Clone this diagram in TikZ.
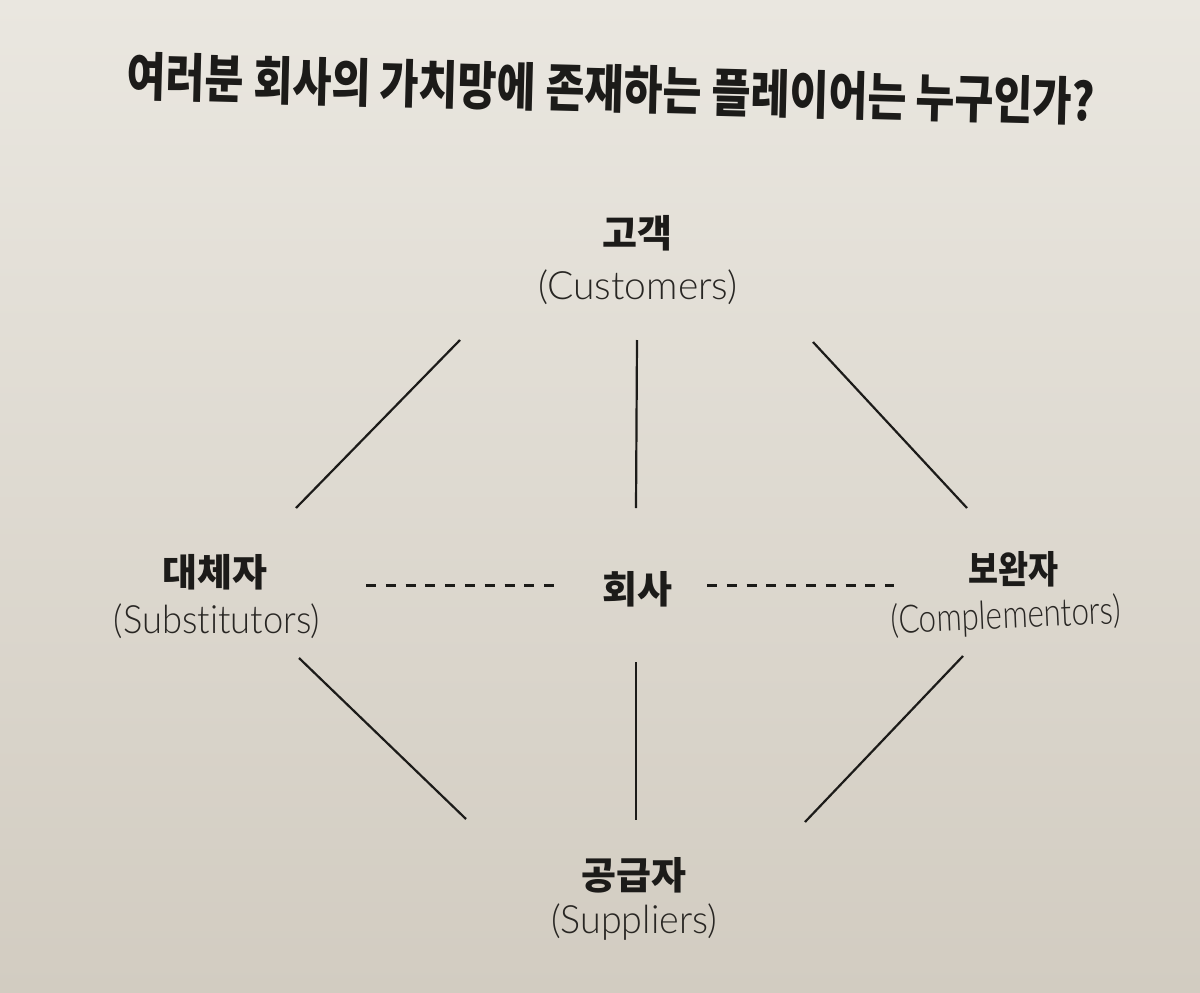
\documentclass[tikz,border=0pt]{standalone}
\usepackage{fontspec}
\usepackage{graphicx}
\setmainfont{Noto Sans CJK KR}
\IfFontExistsTF{Lato Light}{%
  \newfontfamily\latinfont[Ligatures=NoCommon]{Lato Light}%
  \newcommand\enfontsel{\latinfont\fontsize{39}{42}\selectfont}%
}{%
  \newfontfamily\latinfont{Liberation Sans}%
  \newcommand\enfontsel{\latinfont\fontsize{36}{40}\selectfont}%
}
\definecolor{ink}{RGB}{28,27,25}
\definecolor{inklight}{RGB}{40,38,35}
\definecolor{paperTop}{RGB}{234,231,224}
\definecolor{paperBot}{RGB}{210,204,193}
\begin{document}
\begin{tikzpicture}[x=1pt,y=-1pt,
  kr/.style={inner sep=0pt, text=ink, font=\fontsize{38}{40}\selectfont\bfseries},
  en/.style={inner sep=0pt, text=inklight, font=\enfontsel},
  tit/.style={inner sep=0pt, text=ink, font=\fontsize{52}{56}\selectfont\bfseries},
  link/.style={draw=ink, line width=2.2pt},
  dashlink/.style={draw=ink, line width=3pt, dash pattern=on 10pt off 9.8pt}]
\fill[top color=paperTop, bottom color=paperBot] (0,0) rectangle (1200,993);
\useasboundingbox (0,0) rectangle (1200,993);

\node[tit, rotate=-1.5] (title) at (611,89) {\resizebox{968pt}{\height}{여러분 회사의 가치망에 존재하는 플레이어는 누구인가?}};

\node[kr] (cust) at (637,233) {고객};
\node[en] (custen) at (638,287) {(Customers)};
\node[kr] (subst) at (215,572) {대체자};
\node[en] (substen) at (217,621) {\resizebox{206pt}{\height}{(Substitutors)}};
\node[kr] (firm) at (637,589) {회사};
\node[kr] (compl) at (1013,569) {\resizebox{90pt}{\height}{보완자}};
\node[en, rotate=2.5] (complen) at (1006,617) {\resizebox{230pt}{\height}{(Complementors)}};
\node[kr] (suppl) at (634,875) {공급자};
\node[en] (supplen) at (634,922) {\resizebox{166pt}{\height}{(Suppliers)}};

\coordinate (l1a) at (460,340); \coordinate (l1b) at (296,508);
\coordinate (l2a) at (637,340); \coordinate (l2b) at (636,508);
\coordinate (l3a) at (813,342); \coordinate (l3b) at (967,508);
\coordinate (l4a) at (299,658); \coordinate (l4b) at (466,819);
\coordinate (l5a) at (636,662); \coordinate (l5b) at (636,820);
\coordinate (l6a) at (963,656); \coordinate (l6b) at (805,822);
\coordinate (d1a) at (366,585); \coordinate (d1b) at (557,585);
\coordinate (d2a) at (707,585); \coordinate (d2b) at (894,585);

\draw[link] (l1a) -- (l1b);
\draw[link] (l2a) -- (l2b);
\draw[link] (l3a) -- (l3b);
\draw[link] (l4a) -- (l4b);
\draw[link] (l5a) -- (l5b);
\draw[link] (l6a) -- (l6b);
\draw[dashlink] (d1a) -- (d1b);
\draw[dashlink] (d2a) -- (d2b);
\end{tikzpicture}
\end{document}
